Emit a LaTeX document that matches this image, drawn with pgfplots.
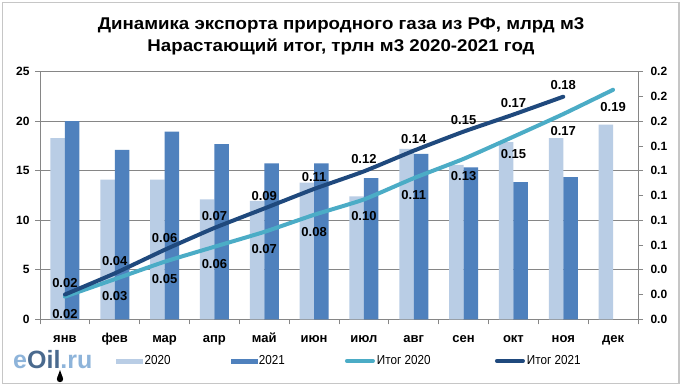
\documentclass[border=0pt]{standalone}
\usepackage{pgfplots}
\pgfplotsset{compat=1.18}
\usepackage{fontspec}
\setmainfont{Liberation Sans}
\definecolor{c20}{HTML}{B9CDE5}
\definecolor{c21}{HTML}{4F81BD}
\definecolor{l20}{HTML}{4BACC6}
\definecolor{l21}{HTML}{1F497D}
\definecolor{gridc}{HTML}{868686}
\definecolor{logoA}{HTML}{8EB4DA}
\definecolor{logoB}{HTML}{4A6A8E}
\begin{document}
\begin{tikzpicture}
\path[use as bounding box] (0pt,0pt) rectangle (682pt,389pt);
\fill[white] (0pt,0pt) rectangle (682pt,389pt);
\draw[gray!45, line width=1.2pt] (2.5pt,5.5pt) rectangle (679pt,386.5pt);
\node[font=\bfseries\fontsize{17}{22}\selectfont, inner sep=0pt] at (341pt,364pt)
  {\scalebox{1.1}[1]{Динамика экспорта природного газа из РФ, млрд м3}};
\node[font=\bfseries\fontsize{17}{22}\selectfont, inner sep=0pt] at (341pt,342pt)
  {\scalebox{1.1}[1]{Нарастающий итог, трлн м3 2020-2021 год}};
\node[anchor=west, inner sep=0pt, font=\bfseries\fontsize{25}{27}\selectfont] at (13pt,29pt)
  {\textcolor{logoA}{e}\textcolor{logoB}{Oil}\textcolor{logoA}{.ru}};
\fill[black] (60pt,10pt) circle (3.2pt);
\fill[black] (57.2pt,11.3pt) -- (60pt,19pt) -- (62.8pt,11.3pt) -- cycle;
\coordinate (O) at (40pt,69.7pt);

\begin{axis}[
  at={(O)}, anchor=south west, scale only axis,
  width=598pt, height=247.6pt,
  xmin=-0.5, xmax=11.5, ymin=0, ymax=25,
  axis y line*=left, axis x line*=bottom,
  axis line style={gridc, line width=0.8pt},
  ytick={0,5,...,25}, ymajorgrids,
  grid style={gridc, line width=0.8pt},
  xtick={0,...,11},
  xticklabels={янв,фев,мар,апр,май,июн,июл,авг,сен,окт,ноя,дек},
  minor xtick={-0.5,0.5,...,11.5},
  major x tick style={draw=none},
  tick style={gridc, line width=0.8pt},
  tick align=outside, major tick length=5pt, minor tick length=5pt,
  tick label style={font=\bfseries\fontsize{12}{14}\selectfont},
  yticklabel style={xshift=-2pt},
  xticklabel style={font=\bfseries\fontsize{13}{15}\selectfont, text height=9pt, text depth=3pt, yshift=-6pt},
  /pgf/number format/assume math mode=true,
  ybar=0pt, bar width=14.5pt,
]
\addplot[fill=c20, draw=none] coordinates {
 (0,18.3) (1,14.1) (2,14.1) (3,12.1) (4,11.95) (5,13.8)
 (6,12.4) (7,17.2) (8,15.6) (9,17.9) (10,18.3) (11,19.65)};
\addplot[fill=c21, draw=none] coordinates {
 (0,20.0) (1,17.1) (2,18.95) (3,17.7) (4,15.75) (5,15.75)
 (6,14.25) (7,16.7) (8,15.35) (9,13.85) (10,14.35)};
\end{axis}

\begin{axis}[
  at={(O)}, anchor=south west, scale only axis,
  width=598pt, height=247.6pt,
  xmin=-0.5, xmax=11.5, ymin=0, ymax=0.2,
  axis y line*=right, axis x line=none,
  axis line style={gridc, line width=0.8pt},
  ytick={0,0.02,0.04,0.06,0.08,0.1,0.12,0.14,0.16,0.18,0.2},
  yticklabel style={xshift=4pt, /pgf/number format/.cd, fixed, fixed zerofill, precision=1},
  tick style={gridc, line width=0.8pt},
  tick align=outside, major tick length=5pt,
  tick label style={font=\bfseries\fontsize{12}{14}\selectfont},
  /pgf/number format/assume math mode=true,
  clip=false,
  point meta=explicit symbolic,
  legend style={at={(rel axis cs:0.122,-0.168)}, anchor=west, draw=none, fill=none,
    legend columns=4, font=\fontsize{13}{15}\selectfont,
    /tikz/every even column/.append style={column sep=0pt}},
  legend cell align=left,
]
\addlegendimage{legend image code/.code={\fill[c20] (0pt,-2.2pt) rectangle (26pt,2.2pt);}}
\addlegendentry{\makebox[84pt][l]{\scalebox{0.9}[1]{2020}}}
\addlegendimage{legend image code/.code={\fill[c21] (0pt,-2.2pt) rectangle (26pt,2.2pt);}}
\addlegendentry{\makebox[84pt][l]{\scalebox{0.9}[1]{2021}}}
\addplot[l20, line width=4pt, line cap=round, smooth, tension=0.3,
  legend image code/.code={\draw[l20, line width=4pt, line cap=round] (0pt,0pt) -- (26pt,0pt);},
  nodes near coords, every node near coord/.append style={anchor=center, yshift=-17pt, text=black, font=\bfseries\fontsize{13}{15}\selectfont}]
 coordinates {
 (0,0.0183) [0.02] (1,0.0324) [0.03] (2,0.0465) [0.05] (3,0.0586) [0.06]
 (4,0.0706) [0.07] (5,0.0844) [0.08] (6,0.0968) [0.10] (7,0.1140) [0.11]
 (8,0.1296) [0.13] (9,0.1475) [0.15] (10,0.1658) [0.17] (11,0.1854) [0.19]};
\addlegendentry{\makebox[116pt][l]{\scalebox{0.9}[1]{Итог 2020}}}
\addplot[l21, line width=4pt, line cap=round, smooth, tension=0.3,
  legend image code/.code={\draw[l21, line width=4pt, line cap=round] (0pt,0pt) -- (26pt,0pt);},
  nodes near coords, every node near coord/.append style={anchor=center, yshift=12pt, text=black, font=\bfseries\fontsize{13}{15}\selectfont}]
 coordinates {
 (0,0.0200) [0.02] (1,0.0371) [0.04] (2,0.0561) [0.06] (3,0.0738) [0.07]
 (4,0.0895) [0.09] (5,0.1053) [0.11] (6,0.1195) [0.12] (7,0.1362) [0.14]
 (8,0.1516) [0.15] (9,0.1654) [0.17] (10,0.1798) [0.18]};
\addlegendentry{\scalebox{0.9}[1]{Итог 2021}}
\end{axis}
\end{tikzpicture}
\end{document}
